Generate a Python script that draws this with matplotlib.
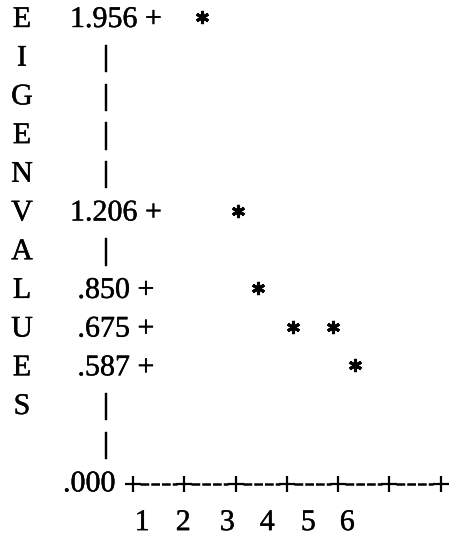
import matplotlib
matplotlib.use('Agg')
import matplotlib.pyplot as plt
import matplotlib.patheffects as pe
import numpy as np

plt.rcParams['font.family'] = ['Liberation Serif', 'DejaVu Serif']

# text scree plot: vertical title, axis tick values and the rows they sit on
title_letters = list("EIGENVALUES")
tick_values = [1.956, 1.206, 0.850, 0.675, 0.587, 0.000]
tick_text = ["1.956 +", "1.206 +", " .850 +", " .675 +", " .587 +", ".000"]
tick_rows = [0, 5, 7, 8, 9, 12]
pipe_rows = [1, 2, 3, 4, 6, 10, 11]

# eigenvalues and the printout column where each star was typed
components = [1, 2, 3, 4, 5, 6]
eigenvalues = [1.956, 1.206, 0.850, 0.675, 0.675, 0.587]
star_cols = [6.7, 10.2, 12.2, 15.6, 19.5, 21.7]

# x axis: plus marks and component number columns
axis_plus_cols = [0, 5, 10, 15, 20, 25, 30]
comp_label_cols = [0.9, 4.9, 9.2, 13.1, 17.1, 20.9]

# layout of the "printout" grid (pixels)
PX_COL = 10.25
X0 = 133
ROW0 = 17
PX_ROW = 38.7
FS = 21.6  # 30 px text
ink = [pe.withStroke(linewidth=0.3, foreground='black')]

fig = plt.figure(figsize=(4.53, 5.40), dpi=100)
ax = fig.add_axes([0, 0, 1, 1])
ax.axis('off')
ax.set_xlim(-X0 / PX_COL, (453 - X0) / PX_COL)
ax.set_ylim((540 - ROW0) / PX_ROW, -ROW0 / PX_ROW)

base = 10 / PX_ROW  # baseline offset below the row centre

def txt(x, y, s, ha='left'):
    ax.text(x, y + base, s, fontsize=FS, ha=ha, va='baseline', path_effects=ink)

for r, ch in enumerate(title_letters):
    txt(-10.83, r, ch, ha='center')

for r, t in zip(tick_rows[:-1], tick_text[:-1]):
    txt(-6.15, r, t)
txt(-6.83, tick_rows[-1], tick_text[-1])

for r in pipe_rows:
    txt(-2.63, r, '|', ha='center')

# x axis line
axis_row = tick_rows[-1] + 0.08
for a, b in zip(axis_plus_cols[:-1], axis_plus_cols[1:]):
    ax.plot([a + 0.7, b - 0.7], [axis_row, axis_row], color='black', lw=1.8,
            linestyle=(0, (3.5, 0.8)), solid_capstyle='butt')
ax.plot(axis_plus_cols, [axis_row] * len(axis_plus_cols), linestyle='none',
        marker='+', markersize=11.5, mew=1.6, color='black')

for c, n in zip(comp_label_cols, components):
    txt(c, tick_rows[-1] + 1, str(n), ha='center')

# stars
row_of = dict(zip(tick_values, tick_rows))
star_rows = [row_of[v] for v in eigenvalues]
ax.plot(star_cols, star_rows, linestyle='none', marker=(6, 2, 0),
        markersize=9.5, mew=2.2, color='black')

fig.savefig('out.png', dpi=100)
